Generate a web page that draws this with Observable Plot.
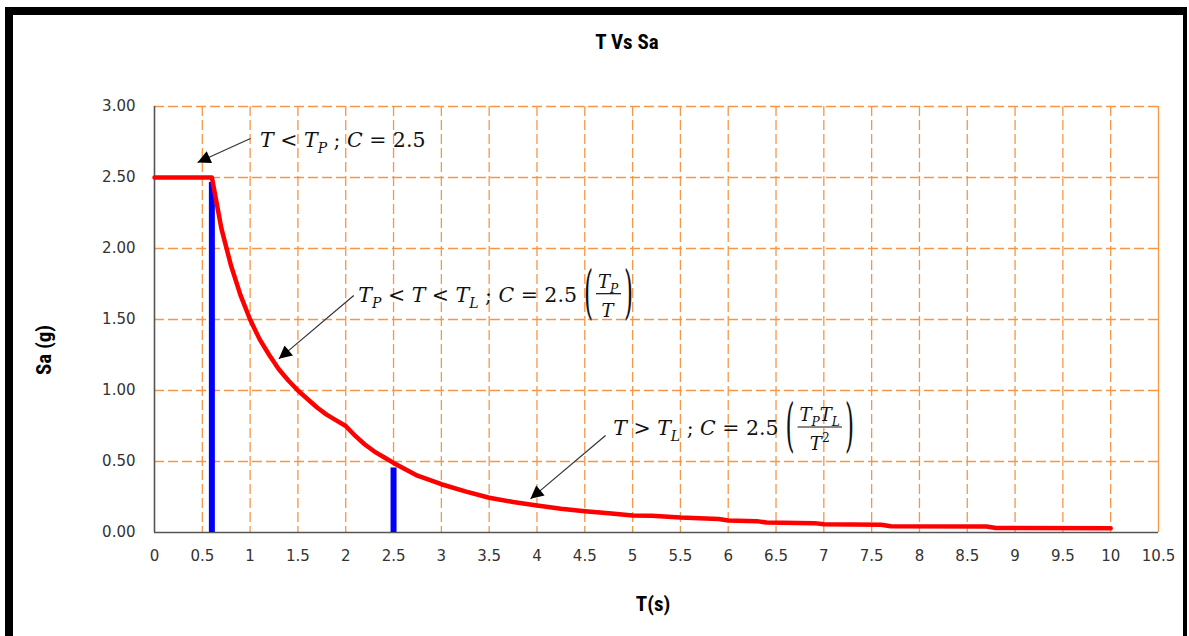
<!DOCTYPE html>
<html><head><meta charset="utf-8">
<script src="https://cdn.jsdelivr.net/npm/d3@7"></script>
<script src="https://cdn.jsdelivr.net/npm/@observablehq/plot@0.6"></script>
<style>
body{margin:0;background:#fff;}
#wrap{position:relative;width:1189px;height:636px;overflow:hidden;background:#fff;}
#wrap svg{position:absolute;left:0;top:0;}
#frame{position:absolute;left:5px;top:7px;width:1170px;height:660px;border-left:8px solid #000;border-top:8px solid #000;border-right:4px solid #000;}
.lbl{position:absolute;font-family:"Liberation Sans Narrow","Arial Narrow","Roboto Condensed","Liberation Sans",sans-serif;font-weight:bold;color:#000;white-space:nowrap;line-height:1;}
#title{left:527px;width:200px;text-align:center;top:32px;font-size:21px;}
#xlab{left:553px;width:200px;text-align:center;top:594px;font-size:21px;}
#ylab{left:44px;top:350px;font-size:21px;transform:translate(-50%,-50%) rotate(-90deg);}
</style></head>
<body><div id="wrap"></div>
<script>
// ---- data ----
const xTicks = [0,0.5,1,1.5,2,2.5,3,3.5,4,4.5,5,5.5,6,6.5,7,7.5,8,8.5,9,9.5,10,10.5];
const yTicks = [0,0.5,1,1.5,2,2.5,3];
const periodT = [0,0.6,0.7,0.8,0.9,1.0,1.1,1.2,1.3,1.4,1.5,1.6,1.7,1.8,1.9,2.0,2.1,2.2,2.3,2.4,2.5,2.75,3.0,3.25,3.5,3.75,4.0,4.25,4.5,4.75,5.0,5.2,5.5,5.9,6.0,6.3,6.4,6.9,7.0,7.6,7.7,8.7,8.8,10];
const accelSa = [2.5,2.5,2.14,1.88,1.67,1.50,1.36,1.25,1.15,1.07,1.00,0.94,0.88,0.83,0.79,0.75,0.68,0.62,0.57,0.53,0.49,0.40,0.34,0.29,0.245,0.215,0.19,0.168,0.15,0.135,0.12,0.118,0.105,0.095,0.085,0.08,0.07,0.066,0.058,0.054,0.044,0.042,0.032,0.03];
const markerT = [0.6, 2.5];
const markerSa = [2.5, 0.49];
// annotations: formula text, text anchor (data coords), arrow tail and head (data coords)
const annText = [
  [["T","i"],[" < ","r"],["T","i"],["P","s"],[" ; ","r"],["C","i"],[" = 2.5","r"]],
  [["T","i"],["P","s"],[" < ","r"],["T","i"],[" < ","r"],["T","i"],["L","s"],[" ; ","r"],["C","i"],[" = 2.5","r"]],
  [["T","i"],[" > ","r"],["T","i"],["L","s"],[" ; ","r"],["C","i"],[" = 2.5","r"]]
];
const annNum = [null, [["T","i"],["P","s"]], [["T","i"],["P","s"],["T","i"],["L","s"]]];
const annDen = [null, [["T","i"]], [["T","i"],["2","p"]]];
const annX = [1.109, 2.137, 4.803];
const annY = [2.709, 1.622, 0.683];
const arrowX1 = [1.004, 2.084, 4.717];
const arrowY1 = [2.775, 1.669, 0.683];
const arrowX2 = [0.450, 1.300, 3.932];
const arrowY2 = [2.606, 1.223, 0.237];

// ---- tables ----
const curve = periodT.map((t,i)=>({T:t, Sa:accelSa[i]}));
const markers = markerT.map((t,i)=>({T:t, Sa:markerSa[i]}));
const arrows = arrowX1.map((x,i)=>({x1:x, y1:arrowY1[i], x2:arrowX2[i], y2:arrowY2[i]}));

// ---- style ----
const gridColor = "#F79646";

const chart = Plot.plot({
  width:1189, height:636,
  marginLeft:154, marginRight:31, marginTop:106, marginBottom:104,
  x:{domain:[0,10.5]}, y:{domain:[0,3]},
  style:{fontFamily:"'DejaVu Sans', Verdana, sans-serif", fontSize:"15px", color:"#333", background:"transparent"},
  marks:[
    Plot.ruleX(xTicks.filter(d=>d>0 && d<10.5), {stroke:gridColor, strokeWidth:1.3, strokeDasharray:"10,4"}),
    Plot.ruleX(xTicks.filter(d=>d===10.5), {stroke:gridColor, strokeWidth:1.3}),
    Plot.ruleY(yTicks.filter(d=>d>0), {stroke:gridColor, strokeWidth:1.3, strokeDasharray:"10,4"}),
    Plot.ruleX([0], {stroke:"#555", strokeWidth:1.6}),
    Plot.ruleY([0], {stroke:"#555", strokeWidth:1.6}),
    Plot.axisX({ticks:xTicks, tickSize:0, tickPadding:18, tickFormat:d=>String(d), label:null}),
    Plot.axisY({ticks:yTicks, tickSize:0, tickPadding:19, tickFormat:d3.format(".2f"), label:null}),
    Plot.ruleX(markers, {x:"T", y1:0, y2:"Sa", stroke:"#0000ff", strokeWidth:6, insetBottom:-5}),
    Plot.line(curve, {x:"T", y:"Sa", stroke:"#ff0000", strokeWidth:4.5}),
    Plot.link(arrows, {x1:"x1", y1:"y1", x2:"x2", y2:"y2", stroke:"#333", strokeWidth:1.2, className:"annlink"})
  ]
});

const wrap = document.getElementById("wrap");
wrap.appendChild(chart);
const NS = "http://www.w3.org/2000/svg";

// arrowheads
const defs = document.createElementNS(NS,"defs");
defs.innerHTML = '<marker id="ahead" viewBox="0 0 10 10" refX="10" refY="5" markerWidth="17" markerHeight="13" markerUnits="userSpaceOnUse" orient="auto"><path d="M0,0 L10,5 L0,10 z" fill="#000"/></marker>';
chart.insertBefore(defs, chart.firstChild);
chart.querySelectorAll(".annlink path").forEach(p=>p.setAttribute("marker-end","url(#ahead)"));

// formula text
const sx = chart.scale("x"), sy = chart.scale("y");
const mathFont = "'DejaVu Serif', 'Liberation Serif', serif";
const g = document.createElementNS(NS,"g");
g.setAttribute("text-anchor","start");
chart.appendChild(g);
function mathLine(x, y, parts, size){
  const t = document.createElementNS(NS,"text");
  t.setAttribute("x", x); t.setAttribute("y", y);
  t.setAttribute("font-family", mathFont); t.setAttribute("font-size", size);
  t.setAttribute("fill","#111"); t.setAttribute("text-anchor","start");
  t.style.whiteSpace = "pre";
  let shift = 0;
  for (const [s,k] of parts){
    const ts = document.createElementNS(NS,"tspan");
    const target = k==="s" ? size*0.3 : k==="p" ? -size*0.42 : 0;
    if (target !== shift){ ts.setAttribute("dy", target-shift); shift = target; }
    if (k==="s"||k==="p") ts.setAttribute("font-size", size*0.68);
    if (k==="i"||k==="s") ts.setAttribute("font-style","italic");
    ts.textContent = s;
    t.appendChild(ts);
  }
  g.appendChild(t);
  return t;
}
function paren(x, y, ch, size){
  const t = document.createElementNS(NS,"text");
  t.setAttribute("transform", `translate(${x},${y}) scale(0.4,1)`);
  t.setAttribute("font-family", mathFont); t.setAttribute("font-size", size);
  t.setAttribute("fill","#111"); t.setAttribute("text-anchor","start");
  t.textContent = ch;
  g.appendChild(t);
  return t;
}
annText.forEach((parts,i)=>{
  const size = 20.5;
  const x = sx.apply(annX[i]), y = sy.apply(annY[i]);
  const main = mathLine(x, y, parts, size);
  if (!annNum[i]) return;
  const bb = main.getBBox();
  const end = bb.x + bb.width;
  const pl = end + 7;
  paren(pl, y + 10, "(", 58);
  const fs = 18;
  const num = mathLine(0, 0, annNum[i], fs);
  const den = mathLine(0, 0, annDen[i], fs);
  const nw = num.getBBox().width, dw = den.getBBox().width;
  const fw = Math.max(nw, dw) + 4;
  const fx = pl + 12;
  num.setAttribute("x", fx + (fw-nw)/2); num.setAttribute("y", y - 14);
  den.setAttribute("x", fx + (fw-dw)/2); den.setAttribute("y", y + 15);
  const bar = document.createElementNS(NS,"line");
  bar.setAttribute("x1", fx); bar.setAttribute("x2", fx+fw);
  bar.setAttribute("y1", y-8); bar.setAttribute("y2", y-8);
  bar.setAttribute("stroke","#111"); bar.setAttribute("stroke-width",1.2);
  g.appendChild(bar);
  paren(fx + fw + 3, y + 10, ")", 58);
});

// frame and labels
const frame = document.createElement("div"); frame.id="frame"; wrap.appendChild(frame);
const title = document.createElement("div"); title.id="title"; title.className="lbl"; title.textContent="T Vs Sa"; wrap.appendChild(title);
const xl = document.createElement("div"); xl.id="xlab"; xl.className="lbl"; xl.textContent="T(s)"; wrap.appendChild(xl);
const yl = document.createElement("div"); yl.id="ylab"; yl.className="lbl"; yl.textContent="Sa (g)"; wrap.appendChild(yl);
</script>
</body></html>
